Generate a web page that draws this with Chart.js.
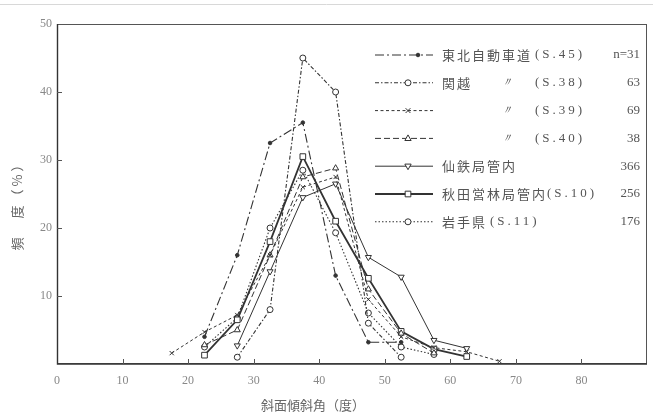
<!DOCTYPE html>
<html>
<head>
<meta charset="utf-8">
<script src="https://cdn.jsdelivr.net/npm/chart.js@4/dist/chart.umd.min.js"></script>
<style>
  html, body { margin: 0; padding: 0; background: #fff; }
  #wrap { width: 653px; height: 416px; }
</style>
</head>
<body>
<div id="wrap"><canvas id="c" width="653" height="416"></canvas></div>
<script>
// slope class mid-points (degrees)
const slopeClasses = [17.5, 22.5, 27.5, 32.5, 37.5, 42.5, 47.5, 52.5, 57.5, 62.5, 67.5];

// frequency (%) per slope class
const tohoku45  = [null, 4.0, 16.0, 32.5, 35.5, 13.0, 3.2, 3.2, null, null, null];
const kanetsu38 = [null, null, 1.0, 8.0, 45.0, 40.0, 6.0, 1.0, null, null, null];
const kanetsu39 = [1.6, 4.7, 7.2, 16.0, 26.0, 27.5, 9.5, 4.0, 2.4, 1.8, 0.4];
const kanetsu40 = [null, 2.8, 5.0, 16.0, 27.5, 28.8, 11.0, 4.5, 1.6, null, null];
const sentetsu  = [null, null, 2.7, 13.6, 24.5, 26.5, 15.7, 12.8, 3.5, 2.3, null];
const akita10   = [null, 1.3, 6.5, 18.0, 30.5, 21.0, 12.6, 4.8, 2.2, 1.1, null];
const iwate11   = [null, 2.5, 6.8, 20.0, 28.5, 19.3, 7.5, 2.5, 1.4, null, null];

// legend text
const seriesNames  = ['東北自動車道', '関越', '', '', '仙鉄局管内', '秋田営林局管内', '岩手県'];
const seriesDitto  = ['', '〃', '〃', '〃', '', '', ''];
const seriesYears  = ['(S.45)', '(S.38)', '(S.39)', '(S.40)', '', '(S.10)', '(S.11)'];
const seriesCounts = ['n=31', '63', '69', '38', '366', '256', '176'];

// axis ticks
const xTicks = [0, 10, 20, 30, 40, 50, 60, 70, 80];
const yTicks = [10, 20, 30, 40, 50];
const xTitle = '斜面傾斜角（度）';
const yTitle = '頻　度（%）';

const INK = '#333';

function toPoints(values) {
  return slopeClasses.map((x, i) => ({ x: x, y: values[i] }));
}

const styles = [
  { values: tohoku45,  dash: [9, 3, 2, 3], width: 1.1, point: 'circle', radius: 1.8, fill: INK },
  { values: kanetsu38, dash: [4, 2, 1.5, 2], width: 1.1, point: 'circle', radius: 3, fill: '#fff' },
  { values: kanetsu39, dash: [3, 2.5], width: 1.0, point: 'crossRot', radius: 3, fill: '#fff' },
  { values: kanetsu40, dash: [6, 3], width: 1.0, point: 'triangle', radius: 3.5, fill: '#fff' },
  { values: sentetsu,  dash: [], width: 1.0, point: 'triangleDown', radius: 3.5, fill: '#fff' },
  { values: akita10,   dash: [], width: 1.8, point: 'rect', radius: 4, fill: '#fff' },
  { values: iwate11,   dash: [1.5, 2], width: 1.1, point: 'circle', radius: 3, fill: '#fff' }
];

const datasets = styles.map((s, i) => ({
  label: seriesNames[i] + seriesYears[i],
  data: toPoints(s.values),
  borderColor: INK,
  borderWidth: s.width,
  borderDash: s.dash,
  pointStyle: s.point === 'triangleDown' ? 'triangle' : s.point,
  rotation: s.point === 'triangleDown' ? 180 : 0,
  pointRadius: s.radius,
  pointBorderWidth: 1,
  pointBorderColor: INK,
  pointBackgroundColor: s.fill,
  tension: 0,
  fill: false,
  spanGaps: false
}));

function marker(ctx, kind, x, y, r, fillColor) {
  ctx.save();
  ctx.setLineDash([]);
  ctx.lineWidth = 1;
  ctx.strokeStyle = INK;
  ctx.fillStyle = fillColor;
  ctx.beginPath();
  if (kind === 'circle') {
    ctx.arc(x, y, r, 0, Math.PI * 2);
    ctx.fill(); ctx.stroke();
  } else if (kind === 'rect') {
    const h = r * Math.SQRT1_2;
    ctx.rect(x - h, y - h, 2 * h, 2 * h);
    ctx.fill(); ctx.stroke();
  } else if (kind === 'triangle' || kind === 'triangleDown') {
    const s = kind === 'triangle' ? 1 : -1;
    ctx.moveTo(x, y - s * r);
    ctx.lineTo(x + r * 0.9, y + s * r * 0.6);
    ctx.lineTo(x - r * 0.9, y + s * r * 0.6);
    ctx.closePath();
    ctx.fill(); ctx.stroke();
  } else if (kind === 'crossRot') {
    const d = r * 0.8;
    ctx.moveTo(x - d, y - d); ctx.lineTo(x + d, y + d);
    ctx.moveTo(x + d, y - d); ctx.lineTo(x - d, y + d);
    ctx.stroke();
  }
  ctx.restore();
}

const framePlugin = {
  id: 'frame',
  beforeDatasetsDraw(chart) {
    const { ctx, chartArea: a, scales } = chart;
    ctx.save();
    // faint rule along the top edge of the sheet
    ctx.strokeStyle = '#d8d8d8';
    ctx.lineWidth = 1;
    ctx.beginPath(); ctx.moveTo(0, 4.5); ctx.lineTo(653, 4.5); ctx.stroke();
    // plot box
    ctx.strokeStyle = '#555';
    ctx.lineWidth = 1;
    ctx.strokeRect(a.left + 0.5, a.top + 0.5, a.right - a.left - 1, a.bottom - a.top - 1);
    ctx.strokeStyle = '#333';
    ctx.lineWidth = 1.4;
    ctx.beginPath();
    ctx.moveTo(a.left + 0.5, a.top); ctx.lineTo(a.left + 0.5, a.bottom);
    ctx.lineTo(a.right, a.bottom);
    ctx.stroke();
    // inward tick marks
    ctx.lineWidth = 1;
    ctx.strokeStyle = '#555';
    ctx.beginPath();
    xTicks.forEach(v => {
      if (v === 0) return;
      const px = Math.round(scales.x.getPixelForValue(v)) + 0.5;
      ctx.moveTo(px, a.bottom); ctx.lineTo(px, a.bottom - 5);
    });
    yTicks.forEach(v => {
      if (v === 50) return;
      const py = Math.round(scales.y.getPixelForValue(v)) + 0.5;
      ctx.moveTo(a.left, py); ctx.lineTo(a.left + 5, py);
    });
    ctx.stroke();
    ctx.restore();
  },
  afterDraw(chart) {
    const { ctx } = chart;
    ctx.save();
    // axis titles
    ctx.fillStyle = '#666';
    ctx.font = '13px "Noto Sans CJK JP"';
    ctx.textAlign = 'center';
    ctx.textBaseline = 'middle';
    ctx.fillText(xTitle, 313, 405);
    ctx.translate(17, 203);
    ctx.rotate(-Math.PI / 2);
    ctx.letterSpacing = '3px';
    ctx.fillText(yTitle, 0, 0);
    ctx.restore();

    // legend block
    ctx.save();
    const top = 55, step = 27.8;
    styles.forEach((s, i) => {
      const y = top + i * step;
      ctx.save();
      ctx.strokeStyle = INK;
      ctx.lineWidth = s.width;
      ctx.setLineDash(s.dash);
      ctx.beginPath(); ctx.moveTo(375, y); ctx.lineTo(433, y); ctx.stroke();
      ctx.restore();
      marker(ctx, s.point, i === 0 ? 418 : 408, y, s.radius, s.fill);

      ctx.fillStyle = '#555';
      ctx.textBaseline = 'middle';
      ctx.textAlign = 'left';
      ctx.font = '13px "Noto Sans CJK JP"';
      ctx.letterSpacing = '2px';
      let x = 442;
      if (seriesNames[i]) {
        ctx.fillText(seriesNames[i], x, y);
        x += ctx.measureText(seriesNames[i]).width;
      }
      if (seriesDitto[i]) {
        ctx.letterSpacing = '0px';
        ctx.font = 'italic 12px "Liberation Serif"';
        ctx.textAlign = 'center';
        ctx.fillText('〃', 507, y);
      }
      if (seriesYears[i]) {
        ctx.font = '13px "Liberation Serif"';
        ctx.letterSpacing = '3px';
        ctx.textAlign = 'left';
        const yx = (i === 6) ? 490 : Math.max(x, 535);
        ctx.fillText(seriesYears[i], yx, y);
      }
      ctx.letterSpacing = '0px';
      ctx.font = '13px "Liberation Serif"';
      ctx.textAlign = 'right';
      ctx.fillText(seriesCounts[i], 640, y);
    });
    ctx.restore();
  }
};

new Chart(document.getElementById('c'), {
  type: 'line',
  data: { datasets: datasets },
  options: {
    responsive: false,
    devicePixelRatio: 1,
    animation: false,
    layout: { padding: { top: 24, right: 6, left: 0, bottom: 0 } },
    plugins: { legend: { display: false }, tooltip: { enabled: false } },
    scales: {
      x: {
        type: 'linear', min: 0, max: 90,
        afterBuildTicks: (s) => { s.ticks = xTicks.map(v => ({ value: v })); },
        afterFit: (s) => { s.height = 52; },
        grid: { display: false, drawTicks: false },
        border: { display: false },
        ticks: { padding: 10, color: '#888', font: { family: 'Liberation Serif', size: 12 }, maxRotation: 0, autoSkip: false }
      },
      y: {
        type: 'linear', min: 0, max: 50,
        afterBuildTicks: (s) => { s.ticks = yTicks.map(v => ({ value: v })); },
        afterFit: (s) => { s.width = 57; },
        grid: { display: false, drawTicks: false },
        border: { display: false },
        ticks: { padding: 5, color: '#888', font: { family: 'Liberation Serif', size: 12 } }
      }
    }
  },
  plugins: [framePlugin]
});
</script>
</body>
</html>
